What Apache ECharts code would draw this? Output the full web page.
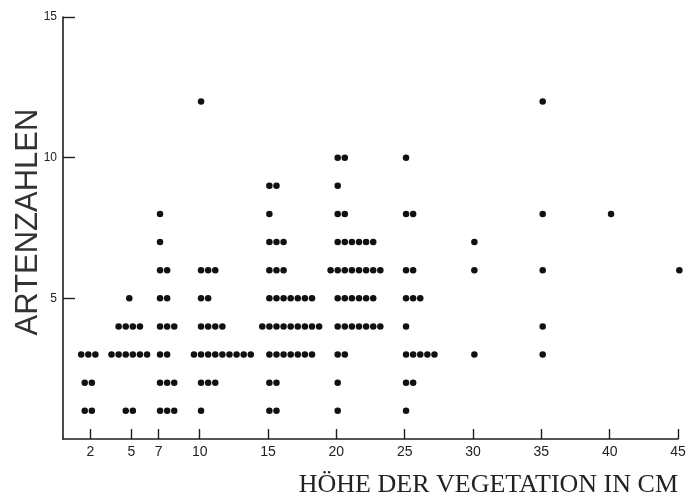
<!DOCTYPE html>
<html>
<head>
<meta charset="utf-8">
<script src="https://cdn.jsdelivr.net/npm/echarts@6/dist/echarts.min.js"></script>
<style>html,body{margin:0;padding:0;background:#fff}#c{width:686px;height:497px}</style>
</head>
<body>
<div id="c"></div>
<script>
// Data: for each vegetation height group, [species count, number of plots]
const h2  = [[1,2],[2,2],[3,3]];
const h5  = [[1,2],[3,6],[4,4],[5,1]];
const h7  = [[1,3],[2,3],[3,2],[4,3],[5,2],[6,2],[7,1],[8,1]];
const h10 = [[1,1],[2,3],[3,9],[4,4],[5,2],[6,3],[12,1]];
const h15 = [[1,2],[2,2],[3,7],[4,9],[5,7],[6,3],[7,3],[8,1],[9,2]];
const h20 = [[1,1],[2,1],[3,2],[4,7],[5,6],[6,8],[7,6],[8,2],[9,1],[10,2]];
const h25 = [[1,1],[2,2],[3,5],[4,1],[5,3],[6,2],[8,2],[10,1]];
const h30 = [[3,1],[6,1],[7,1]];
const h35 = [[3,1],[4,1],[6,1],[8,1],[12,1]];
const h40 = [[8,1]];
const h45 = [[6,1]];
const heights = [2,5,7,10,15,20,25,30,35,40,45];
const groups = [h2,h5,h7,h10,h15,h20,h25,h30,h35,h40,h45];
const xTicks = [2,5,7,10,15,20,25,30,35,40,45];
const yTicks = [5,10,15];

// dot-strip layout (in axis units)
const STEP = 0.52;
const centeredGroups = [2,5];
const points = [];
heights.forEach((h, gi) => {
  groups[gi].forEach(([y, n]) => {
    for (let k = 0; k < n; k++) {
      let x;
      if (centeredGroups.includes(h)) {
        x = h - 0.15 + (k - (n - 1) / 2) * STEP;
      } else {
        const shift = n > 7 ? 1 : 0;
        x = h + 0.1 + (k - shift) * STEP;
      }
      points.push([x, y]);
    }
  });
});

const chart = echarts.init(document.getElementById('c'), null, {renderer:'canvas'});
const ink = '#1e1e1e';
chart.setOption({
  animation: false,
  backgroundColor: '#fff',
  grid: {left: 63, right: 8, top: 17, bottom: 58, containLabel: false, outerBoundsMode: 'none'},
  xAxis: {
    type: 'value', min: 0, max: 45,
    axisLine: {show: true, onZero: true, lineStyle: {color: ink, width: 1.6}},
    axisTick: {show: true, inside: true, length: 10, customValues: xTicks, lineStyle: {color: ink, width: 1.4}},
    axisLabel: {customValues: xTicks, margin: 6, fontSize: 14, color: '#222', fontFamily: 'Liberation Sans'},
    splitLine: {show: false},
    name: 'HÖHE DER VEGETATION IN CM',
    nameLocation: 'end', nameGap: 0, nameMoveOverlap: false,
    nameTextStyle: {align: 'right', verticalAlign: 'top', padding: [33, 0, 0, 0], fontSize: 26, color: '#222', fontFamily: 'Liberation Serif'}
  },
  yAxis: {
    type: 'value', min: 0, max: 15,
    axisLine: {show: true, lineStyle: {color: ink, width: 1.6}},
    axisTick: {show: true, inside: true, length: 12, customValues: yTicks, lineStyle: {color: ink, width: 1.4}},
    axisLabel: {customValues: yTicks, margin: 6, fontSize: 12, color: '#222', fontFamily: 'Liberation Sans'},
    splitLine: {show: false},
    name: 'ARTENZAHLEN',
    nameLocation: 'middle', nameGap: 19, nameRotate: 90, nameMoveOverlap: false,
    nameTextStyle: {fontSize: 31, color: '#333', fontFamily: 'Liberation Sans', padding: [0, 0, 0, 12]}
  },
  series: [{
    type: 'scatter',
    clip: false,
    symbol: 'circle', symbolSize: 6.5,
    itemStyle: {color: '#111', opacity: 1},
    data: points
  }]
});
</script>
</body>
</html>
